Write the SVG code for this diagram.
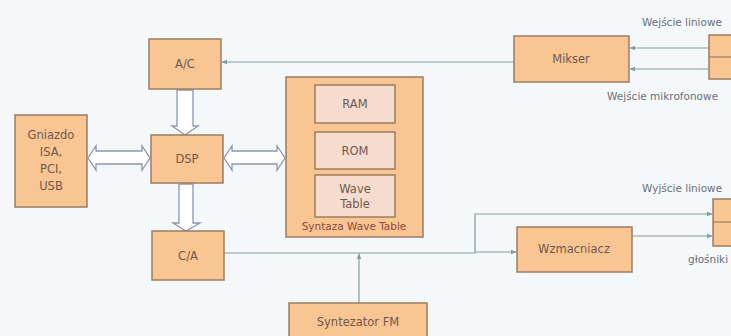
<svg xmlns="http://www.w3.org/2000/svg" width="731" height="336" viewBox="0 0 731 336">
<defs>
<style>
.box{fill:#f9c592;stroke:#9c7c60;stroke-width:1.5}
.inner{fill:#f6dccf;stroke:#9c7c60;stroke-width:1.5}
.t{font-family:"DejaVu Sans",sans-serif;font-size:11.5px;fill:#6e5a4c;text-anchor:middle}
.s{font-family:"DejaVu Sans",sans-serif;font-size:10.5px;fill:#6a7078}
.w{font-family:"DejaVu Sans",sans-serif;font-size:10.5px;fill:#8a4a3a;text-anchor:middle}
.ln{fill:none;stroke:#7f9ea4;stroke-width:1.2}
.ha{fill:#ffffff;stroke:#8a98b4;stroke-width:1.3}
</style>
<marker id="ar" viewBox="0 0 10 10" refX="9" refY="5" markerWidth="5" markerHeight="5" orient="auto">
<path d="M0,1 L10,5 L0,9 z" fill="#7f9ea4"/>
</marker>
</defs>
<rect width="731" height="336" fill="#f5f8fb"/>
<g id="connectors">
<line class="ln" x1="514" y1="62" x2="222" y2="62" marker-end="url(#ar)"/>
<line class="ln" x1="709" y1="48" x2="630" y2="48" marker-end="url(#ar)"/>
<line class="ln" x1="709" y1="69" x2="630" y2="69" marker-end="url(#ar)"/>
<polyline class="ln" points="224,253 475,253 475,214 712,214" marker-end="url(#ar)"/>
<line class="ln" x1="475" y1="252" x2="516" y2="252" marker-end="url(#ar)"/>
<line class="ln" x1="632" y1="236" x2="712" y2="236" marker-end="url(#ar)"/>
<line class="ln" x1="359" y1="303" x2="359" y2="254" marker-end="url(#ar)"/>
<path class="ha" d="M177,90 L193,90 L193,126 L198,126 L185,135 L172,126 L177,126 Z"/>
<path class="ha" d="M179,184 L193,184 L193,223 L200,223 L186,231 L173,223 L179,223 Z"/>
<path class="ha" d="M88,158 L96,146 L96,151 L142,151 L142,146 L150,158 L142,170 L142,164 L96,164 L96,170 Z"/>
<path class="ha" d="M224,158 L232,146 L232,151 L277,151 L277,146 L285,158 L277,170 L277,164 L232,164 L232,170 Z"/>
</g>
<g id="ac"><rect class="box" x="149" y="39" width="72" height="50"/><text class="t" x="185" y="68">A/C</text></g>
<g id="dsp"><rect class="box" x="151" y="135" width="72" height="48"/><text class="t" x="187" y="163">DSP</text></g>
<g id="ca"><rect class="box" x="152" y="231" width="72" height="49"/><text class="t" x="188" y="260">C/A</text></g>
<g id="gniazdo"><rect class="box" x="15" y="115" width="72" height="92"/>
<text class="t" x="51" y="139">Gniazdo</text><text class="t" x="51" y="156">ISA,</text><text class="t" x="51" y="173">PCI,</text><text class="t" x="51" y="190">USB</text></g>
<g id="wavetable"><rect class="box" x="286" y="77" width="137" height="160"/>
<text class="w" x="354" y="230">Syntaza Wave Table</text></g>
<g id="ram"><rect class="inner" x="315" y="85" width="80" height="38"/><text class="t" x="355" y="108">RAM</text></g>
<g id="rom"><rect class="inner" x="315" y="132" width="80" height="37"/><text class="t" x="355" y="155">ROM</text></g>
<g id="wave"><rect class="inner" x="315" y="175" width="80" height="42"/><text class="t" x="355" y="193">Wave</text><text class="t" x="355" y="208">Table</text></g>
<g id="mikser"><rect class="box" x="514" y="36" width="115" height="46"/><text class="t" x="571" y="63">Mikser</text></g>
<g id="wzmacniacz"><rect class="box" x="517" y="227" width="115" height="45"/><text class="t" x="574" y="253">Wzmacniacz</text></g>
<g id="fm"><rect class="box" x="289" y="303" width="138" height="40"/><text class="t" x="358" y="326">Syntezator FM</text></g>
<g id="wejscie"><rect class="box" x="709" y="35" width="30" height="44"/><line x1="709" y1="57" x2="731" y2="57" stroke="#9c7c60" stroke-width="1.2"/></g>
<g id="wyjscie"><rect class="box" x="713" y="199" width="30" height="47"/><line x1="713" y1="222" x2="731" y2="222" stroke="#9c7c60" stroke-width="1.2"/></g>
<text class="s" x="642" y="26">Wejście liniowe</text>
<text class="s" x="607" y="100">Wejście mikrofonowe</text>
<text class="s" x="642" y="192">Wyjście liniowe</text>
<text class="s" x="688" y="263">głośniki</text>
</svg>
